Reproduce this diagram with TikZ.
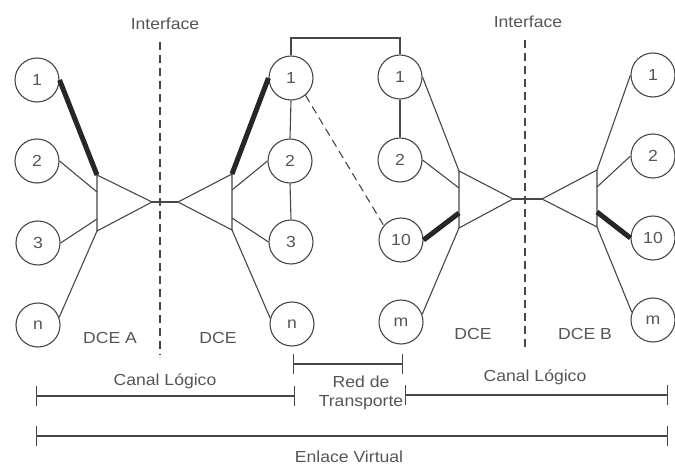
\documentclass[tikz,border=0pt]{standalone}
\usepackage{fontspec}
\setmainfont{Liberation Sans}[FakeStretch=1.1]
\usetikzlibrary{arrows.meta}
\definecolor{ln}{HTML}{474747}
\definecolor{tx}{HTML}{555555}
\begin{document}
\begin{tikzpicture}[x=1pt,y=-1pt,
  every node/.style={font=\fontsize{16}{19}\selectfont, text=tx},
  circ/.style={circle, draw=ln, line width=1.1pt, minimum size=44pt, inner sep=0pt},
  thin/.style={draw=ln, line width=1.1pt},
  heavy/.style={draw=black!85, line width=5pt},
  ifline/.style={draw=ln, line width=1.1pt, dash pattern=on 8pt off 5pt},
  meas/.style={draw=ln, line width=1.2pt, {Bar[width=20pt]}-{Bar[width=20pt]}},
  lbl/.style={inner sep=0pt}]
\useasboundingbox (0,0) rectangle (675,468);

% circles
\node[circ] (a1) at (37,80) {1};
\node[circ] (a2) at (37,161) {2};
\node[circ] (a3) at (38,243) {3};
\node[circ] (an) at (38,325) {n};
\node[circ] (b1) at (291,78) {1};
\node[circ] (b2) at (290,161) {2};
\node[circ] (b3) at (291,242) {3};
\node[circ] (bn) at (292,324) {n};
\node[circ] (c1) at (400,77) {1};
\node[circ] (c2) at (400,160) {2};
\node[circ] (c10) at (401,240) {10};
\node[circ] (cm) at (401,322) {m};
\node[circ] (d1) at (653,75) {1};
\node[circ] (d2) at (653,156) {2};
\node[circ] (d10) at (653,238) {10};
\node[circ] (dm) at (653,320) {m};

% triangle points
\coordinate (tAt) at (97,175); \coordinate (tAb) at (97,231); \coordinate (tAx) at (152,202);
\coordinate (tBt) at (232,174); \coordinate (tBb) at (232,230); \coordinate (tBx) at (178,202);
\coordinate (tCt) at (459,171); \coordinate (tCb) at (459,228); \coordinate (tCx) at (513,199);
\coordinate (tDt) at (597,170); \coordinate (tDb) at (597,227); \coordinate (tDx) at (542,199);
\coordinate (pA2) at (97,192); \coordinate (pA3) at (97,219);
\coordinate (pB2) at (232,190); \coordinate (pB3) at (232,218);
\coordinate (pC2) at (459,188); \coordinate (pC3) at (459,213);
\coordinate (pD2) at (597,187); \coordinate (pD3) at (597,212);

\draw[thin] (tAt) -- (tAb) -- (tAx) -- cycle;
\draw[thin] (tBt) -- (tBb) -- (tBx) -- cycle;
\draw[thin] (tCt) -- (tCb) -- (tCx) -- cycle;
\draw[thin] (tDt) -- (tDb) -- (tDx) -- cycle;
\draw[thin] (tAx) -- (tBx);
\draw[thin] (tCx) -- (tDx);

% connections
\draw[heavy] (a1.east) -- (tAt);
\draw[thin] (a2.east) -- (pA2);
\draw[thin] (a3.east) -- (pA3);
\draw[thin] (an.20) -- (tAb);
\draw[heavy] (b1.west) -- (tBt);
\draw[thin] (b2.west) -- (pB2);
\draw[thin] (b3.west) -- (pB3);
\draw[thin] (bn.165) -- (tBb);
\draw[thin] (c1.east) -- (tCt);
\draw[thin] (c2.east) -- (pC2);
\draw[heavy] (c10.east) -- (pC3);
\draw[thin] (cm.20) -- (tCb);
\draw[thin] (d1.west) -- (tDt);
\draw[thin] (d2.west) -- (pD2);
\draw[heavy] (d10.west) -- (pD3);
\draw[thin] (dm.160) -- (tDb);

\draw[thin] (b1.south) -- (b2.north);
\draw[thin] (b2.south) -- (b3.north);
\draw[thin] (c1.south) -- (c2.north);
\coordinate (topmid) at (345,38);
\draw[thin] (b1.north) |- (topmid) -| (c1.north);
\draw[ifline] (b1.-50) -- (c10.140);

% interfaces
\node[lbl] (if1) at (165,24) {Interface};
\node[lbl] (if2) at (528,22) {Interface};
\coordinate (i1t) at (160,42); \coordinate (i1b) at (160,355);
\coordinate (i2t) at (525,40); \coordinate (i2b) at (525,350);
\draw[ifline] (i1t) -- (i1b);
\draw[ifline] (i2t) -- (i2b);

% labels
\node[lbl] (dA) at (110,338) {DCE A};
\node[lbl] (dB1) at (218,338) {DCE};
\node[lbl] (dC1) at (473,334) {DCE};
\node[lbl] (dD) at (585,334) {DCE B};

% measures
\coordinate (m1a) at (36,396); \coordinate (m1b) at (295,396);
\coordinate (m2a) at (293,364); \coordinate (m2b) at (403,364);
\coordinate (m3a) at (405,395); \coordinate (m3b) at (668,395);
\coordinate (m4a) at (36,436); \coordinate (m4b) at (668,436);
\draw[meas] (m1a) -- (m1b);
\draw[meas] (m2a) -- (m2b);
\draw[meas] (m3a) -- (m3b);
\draw[meas] (m4a) -- (m4b);
\node[lbl] (cl1) at (165,381) {Canal Lógico};
\node[lbl] (cl2) at (535,377) {Canal Lógico};
\node[lbl, align=center] (rt) at (361,393) {Red de\\Transporte};
\node[lbl] (ev) at (349,457) {Enlace Virtual};
\end{tikzpicture}
\end{document}
